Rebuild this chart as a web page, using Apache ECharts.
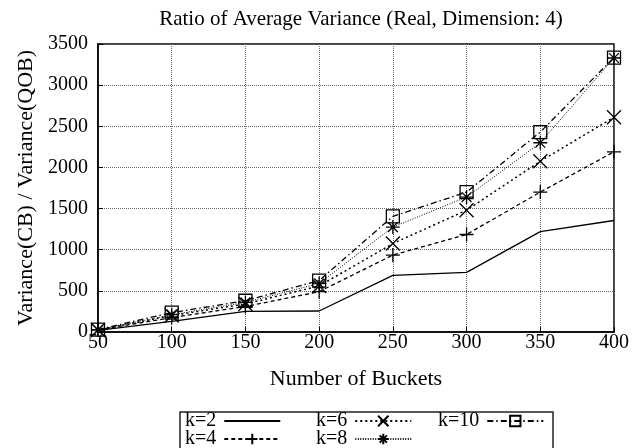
<!DOCTYPE html>
<html>
<head>
<meta charset="utf-8">
<script src="https://cdn.jsdelivr.net/npm/echarts@6/dist/echarts.min.js"></script>
<style>
  html, body { margin: 0; padding: 0; background: #fff; }
  #main { width: 644px; height: 448px; }
</style>
</head>
<body>
<div id="main"></div>
<script>
var buckets = [50, 100, 150, 200, 250, 300, 350, 400];
var k2 = [20, 130, 250, 255, 688, 725, 1220, 1355];
var k4 = [25, 175, 310, 490, 935, 1185, 1700, 2190];
var k6 = [25, 200, 340, 560, 1075, 1480, 2075, 2610];
var k8 = [25, 210, 360, 590, 1275, 1640, 2300, 3330];
var k10 = [30, 235, 380, 625, 1405, 1700, 2430, 3335];

var FONT = "Liberation Serif";

// symbols drawn as strokes
var SYM_PLUS = "path://M0,-1L0,1M-1,0L1,0";
var SYM_X = "path://M-1,-1L1,1M-1,1L1,-1";
var SYM_STAR = "path://M0,-1L0,1M-1,0L1,0M-0.7,-0.7L0.7,0.7M-0.7,0.7L0.7,-0.7";
var SYM_SQ = "path://M-1,-1L1,-1L1,1L-1,1Z";

function pairs(ys) {
  return buckets.map(function (b, i) { return [b, ys[i]]; });
}

function mkSeries(name, ys, symbol, size, dash, width) {
  var noMark = symbol === null;
  return {
    name: name,
    type: "line",
    data: pairs(ys),
    symbol: noMark ? "circle" : symbol,
    symbolSize: size,
    showSymbol: !noMark,
    lineStyle: { color: "#000", width: width, type: dash },
    itemStyle: { color: "none", borderColor: noMark ? "transparent" : "#000", borderWidth: noMark ? 0 : 1.3 },
    emphasis: { disabled: true },
    z: 3
  };
}

var myChart = echarts.init(document.getElementById("main"));

function legendAt(left, top, name) {
  return {
    id: "lg-" + name,
    orient: "horizontal",
    left: left,
    top: top,
    data: [name],
    align: "right",
    itemWidth: 56,
    itemHeight: 13,
    padding: 0,
    textStyle: { fontFamily: FONT, fontSize: 20, color: "#000", padding: [0, 3, 0, 0] },
    selectedMode: false
  };
}

var option = {
  animation: false,
  title: {
    text: "Ratio of Average Variance (Real, Dimension: 4)",
    left: 356,
    textAlign: "center",
    top: 4,
    textStyle: { fontFamily: FONT, fontSize: 21, fontWeight: "normal", color: "#000" }
  },
  grid: {
    left: 98, right: 30, top: 44, bottom: 116,
    show: true, borderColor: "#000", borderWidth: 1.5, backgroundColor: "#fff"
  },
  legend: [
    legendAt(185, 411, "k=2"),
    legendAt(185, 429, "k=4"),
    legendAt(316, 411, "k=6"),
    legendAt(316, 429, "k=8"),
    legendAt(438, 411, "k=10")
  ],
  graphic: [{
    type: "rect",
    shape: { x: 180, y: 412, width: 373, height: 60 },
    style: { fill: "none", stroke: "#222", lineWidth: 1.5 },
    silent: true
  }],
  xAxis: {
    type: "value",
    min: 50, max: 400, interval: 50,
    name: "Number of Buckets",
    nameLocation: "middle",
    nameGap: 36,
    nameTextStyle: { fontFamily: FONT, fontSize: 22, color: "#000" },
    axisLine: { show: true, lineStyle: { color: "#000", width: 1.5 } },
    axisTick: { inside: true, length: 5, lineStyle: { color: "#000" } },
    axisLabel: { fontFamily: FONT, fontSize: 20, color: "#000", margin: 1 },
    splitLine: { show: true, lineStyle: { color: "#666", type: "dotted", width: 1 } }
  },
  yAxis: {
    type: "value",
    min: 0, max: 3500, interval: 500,
    name: "Variance(CB) / Variance(QOB)",
    nameLocation: "middle",
    nameGap: 58,
    nameTextStyle: { fontFamily: FONT, fontSize: 22, color: "#000" },
    axisLine: { show: true, lineStyle: { color: "#000", width: 1.5 } },
    axisTick: { inside: true, length: 5, lineStyle: { color: "#000" } },
    axisLabel: {
      fontFamily: FONT, fontSize: 20, color: "#000", margin: 10,
      formatter: function (v) { return String(v); }
    },
    splitLine: { show: true, lineStyle: { color: "#666", type: "dotted", width: 1 } }
  },
  series: [
    mkSeries("k=2", k2, null, 0, "solid", 1.3),
    mkSeries("k=4", k4, SYM_PLUS, 14, [4, 3], 1.3),
    mkSeries("k=6", k6, SYM_X, 14, [2, 3], 1.5),
    mkSeries("k=8", k8, SYM_STAR, 14, [1, 1.5], 1),
    mkSeries("k=10", k10, SYM_SQ, 13, [6, 3, 1.5, 3], 1.3)
  ]
};

myChart.setOption(option);
</script>
</body>
</html>
